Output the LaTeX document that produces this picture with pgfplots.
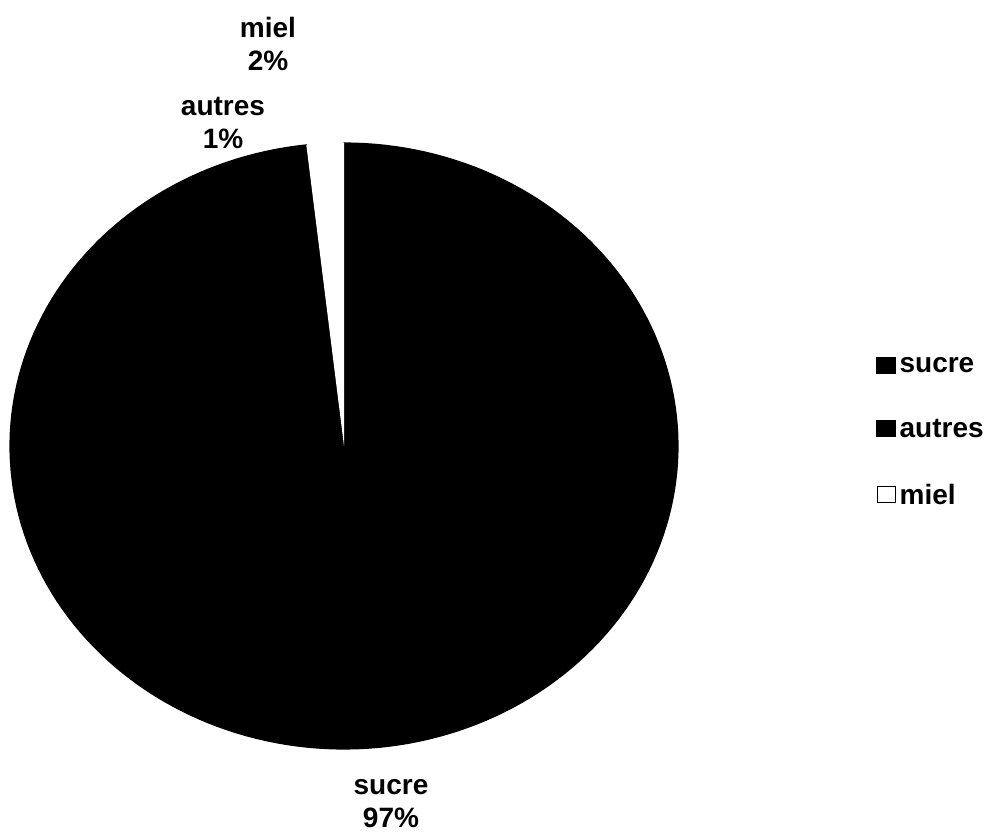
\documentclass[border=0pt]{standalone}
\usepackage{fontspec}
\setmainfont{Liberation Sans}
\usepackage{pgfplots}
\usepackage{pgfplotstable}
\pgfplotsset{compat=1.18}

% parts of the sugar supply, in percent (clockwise from 12 o'clock)
\pgfplotstableread{
label  pct
sucre  97.2
autres 1.0
miel   1.8
}\piedata

\begin{document}%
\begin{tikzpicture}
\pgfplotstablegetelem{0}{pct}\of\piedata \let\pA\pgfplotsretval
\pgfplotstablegetelem{1}{pct}\of\piedata \let\pB\pgfplotsretval
\pgfplotstablegetelem{2}{pct}\of\piedata \let\pC\pgfplotsretval
\pgfmathsetmacro\aA{90-3.6*\pA}%
\pgfmathsetmacro\aB{\aA-3.6*\pB}%
\pgfmathsetmacro\aC{\aB-3.6*\pC}%
\begin{axis}[
    x=0.5pt, y=0.5pt,
    xmin=0, xmax=995, ymin=0, ymax=834,
    hide axis, clip=false,
    font=\fontsize{14}{16.5}\selectfont\bfseries,
    legend style={draw=none, fill=none, at={(axis cs:876,481)}, anchor=north west,
        row sep=17.8pt, inner sep=0pt, font=\fontsize{14}{16.5}\selectfont\bfseries},
    legend cell align=left,
    legend image code/.code={\draw[#1] (0pt,-3.4pt) rectangle (9pt,4.6pt);},
]
% slices, centre (344,388), radii 334 x 303
\addplot[fill=black, draw=black, line width=0.6pt, domain=\aA:90, samples=200]
    ({344+334*cos(x)},{388+303*sin(x)}) -- (axis cs:344,388) -- cycle;
\addplot[fill=black, draw=black, line width=0.6pt, domain=\aB:\aA, samples=10]
    ({344+334*cos(x)},{388+303*sin(x)}) -- (axis cs:344,388) -- cycle;
\addplot[fill=white, draw=none, domain=\aC:\aB, samples=10]
    ({344+334*cos(x)},{388+303*sin(x)}) -- (axis cs:344,388) -- cycle;

\addlegendimage{fill=black, draw=black}
\addlegendimage{fill=black, draw=black}
\addlegendimage{fill=white, draw=black, line width=0.8pt}
\legend{sucre, autres, miel}

\node[align=center, inner sep=0pt, anchor=north] at (axis cs:268,817) {miel\\2\%};
\node[align=center, inner sep=0pt, anchor=north] at (axis cs:223,737) {autres\\1\%};
\node[align=center, inner sep=0pt, anchor=north] at (axis cs:391,55) {sucre\\97\%};
\coordinate (bl) at (axis cs:0,0);
\coordinate (tr) at (axis cs:995,834);
\end{axis}
\pgfresetboundingbox
\path (bl) rectangle (tr);
\end{tikzpicture}%
\end{document}
